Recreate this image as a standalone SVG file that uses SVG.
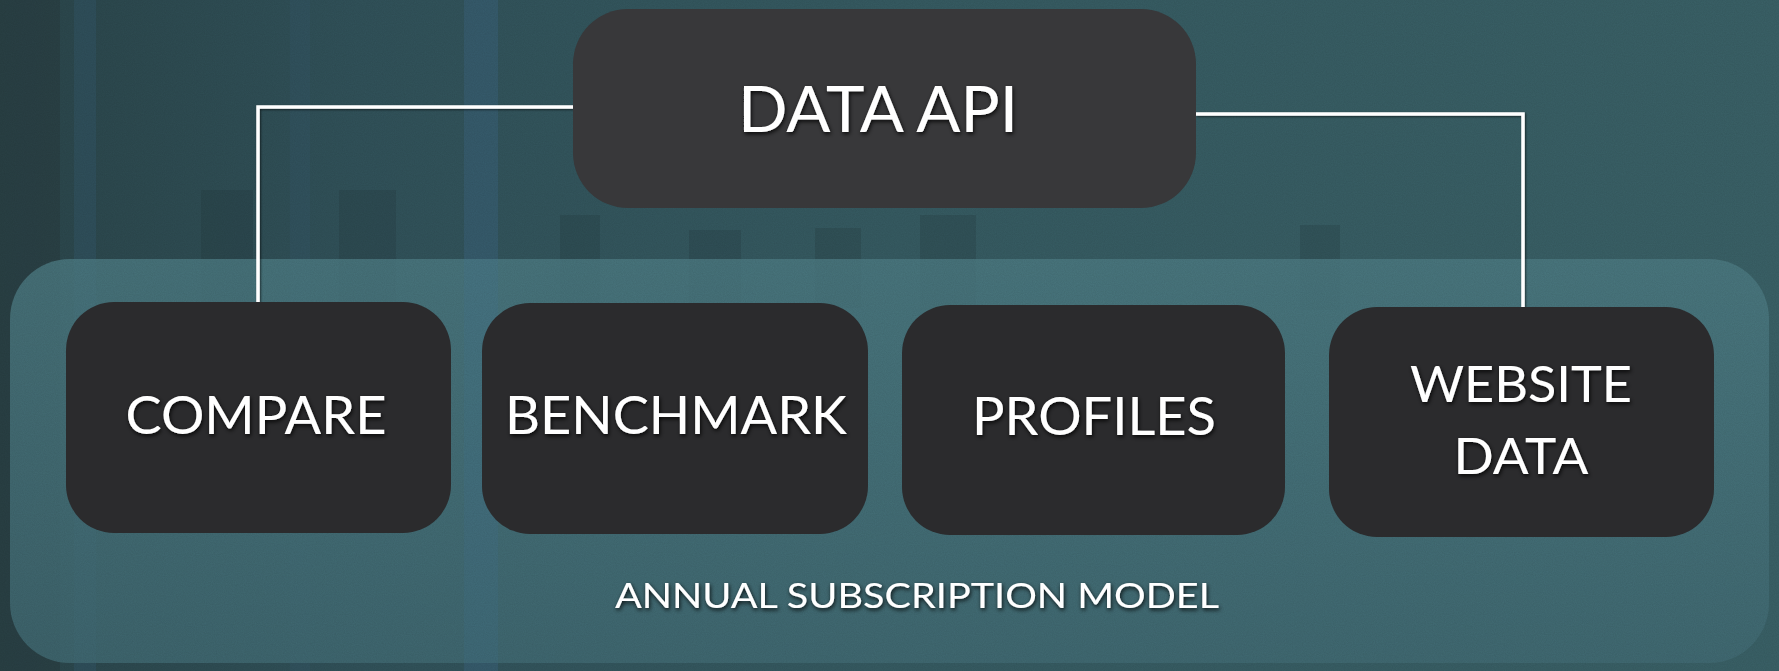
<svg xmlns="http://www.w3.org/2000/svg" width="1779" height="671" viewBox="0 0 1779 671">
  <defs>
    <linearGradient id="bgGrad" x1="0" y1="0" x2="1" y2="0">
      <stop offset="0" stop-color="#2b464b"/>
      <stop offset="0.2" stop-color="#31525a"/>
      <stop offset="0.5" stop-color="#365b62"/>
      <stop offset="1" stop-color="#3a6167"/>
    </linearGradient>
    <linearGradient id="panelGrad" x1="0" y1="0" x2="0" y2="1">
      <stop offset="0" stop-color="#4d7c84"/>
      <stop offset="1" stop-color="#426c75"/>
    </linearGradient>
    <filter id="textShadow" x="-10%" y="-30%" width="120%" height="160%">
      <feDropShadow dx="1" dy="2" stdDeviation="2" flood-color="#000" flood-opacity="0.85"/>
    </filter>
    <filter id="lineShadow" x="-5%" y="-5%" width="110%" height="110%">
      <feDropShadow dx="1" dy="1" stdDeviation="1.2" flood-color="#000" flood-opacity="0.6"/>
    </filter>
    <filter id="grain" x="0" y="0" width="100%" height="100%">
      <feTurbulence type="fractalNoise" baseFrequency="0.9" numOctaves="2" seed="3" result="n"/>
      <feColorMatrix type="matrix" values="0 0 0 0 0  0 0 0 0 0  0 0 0 0 0  0 0 0 0.10 0"/>
    </filter>
  </defs>
  <style>
    .node rect { fill: #2b2b2d; }
    .label { font-family: "Lato", "Open Sans", "Liberation Sans", sans-serif; fill: #ffffff; text-anchor: middle; filter: url(#textShadow); }
    .conn { fill: none; stroke: #ffffff; stroke-width: 3.5; filter: url(#lineShadow); }
    .bar { fill: #1f3035; opacity: 0.22; }
    .stripe { fill: #3f6f96; }
  </style>

  <!-- backdrop -->
  <rect x="0" y="0" width="1779" height="671" fill="url(#bgGrad)"/>
  <rect x="0" y="0" width="60" height="671" fill="#27393d" opacity="0.5"/>
  <rect class="stripe" x="74" y="0" width="22" height="671" opacity="0.18"/>
  <rect class="stripe" x="464" y="0" width="34" height="671" opacity="0.28"/>
  <rect class="stripe" x="290" y="0" width="20" height="671" opacity="0.10"/>

  <!-- faint bar chart behind the panel -->
  <rect class="bar" x="201" y="190" width="52" height="120"/>
  <rect class="bar" x="339" y="190" width="57" height="120"/>
  <rect class="bar" x="560" y="215" width="40" height="90"/>
  <rect class="bar" x="689" y="230" width="52" height="80"/>
  <rect class="bar" x="815" y="228" width="46" height="80"/>
  <rect class="bar" x="920" y="215" width="56" height="95"/>
  <rect class="bar" x="1300" y="225" width="40" height="85"/>

  <!-- subscription panel -->
  <rect x="10" y="259" width="1759" height="404" rx="60" ry="60" fill="url(#panelGrad)" opacity="0.8"/>
  <rect class="stripe" x="464" y="259" width="34" height="404" opacity="0.15"/>
  <rect x="0" y="0" width="1779" height="671" filter="url(#grain)"/>

  <!-- connectors -->
  <g id="connectors">
    <path class="conn" d="M258,302 V107 H573"/>
    <path class="conn" d="M1196,114 H1523 V307"/>
    <path class="conn" d="M676,208 V303"/>
    <path class="conn" d="M1095,208 V305"/>
  </g>

  <!-- nodes -->
  <g id="node-data-api" class="node">
    <rect x="573" y="9" width="623" height="199" rx="55" ry="55" style="fill:#38383a"/>
    <text class="label" x="878" y="132" font-size="64" textLength="280" lengthAdjust="spacingAndGlyphs">DATA API</text>
  </g>
  <g id="node-compare" class="node">
    <rect x="66" y="302" width="385" height="231" rx="48" ry="48"/>
    <text class="label" x="256" y="434" font-size="52" textLength="261" lengthAdjust="spacingAndGlyphs">COMPARE</text>
  </g>
  <g id="node-benchmark" class="node">
    <rect x="482" y="303" width="386" height="231" rx="48" ry="48"/>
    <text class="label" x="676" y="434" font-size="52" textLength="342" lengthAdjust="spacingAndGlyphs">BENCHMARK</text>
  </g>
  <g id="node-profiles" class="node">
    <rect x="902" y="305" width="383" height="230" rx="48" ry="48"/>
    <text class="label" x="1094" y="435" font-size="52" textLength="244" lengthAdjust="spacingAndGlyphs">PROFILES</text>
  </g>
  <g id="node-website-data" class="node">
    <rect x="1329" y="307" width="385" height="230" rx="48" ry="48"/>
    <text class="label" x="1521" y="402" font-size="50" textLength="222" lengthAdjust="spacingAndGlyphs">WEBSITE</text>
    <text class="label" x="1521" y="474" font-size="50" textLength="135" lengthAdjust="spacingAndGlyphs">DATA</text>
  </g>

  <!-- panel caption -->
  <text id="caption" class="label" x="917" y="608" font-size="35" textLength="604" lengthAdjust="spacingAndGlyphs">ANNUAL SUBSCRIPTION MODEL</text>
</svg>
